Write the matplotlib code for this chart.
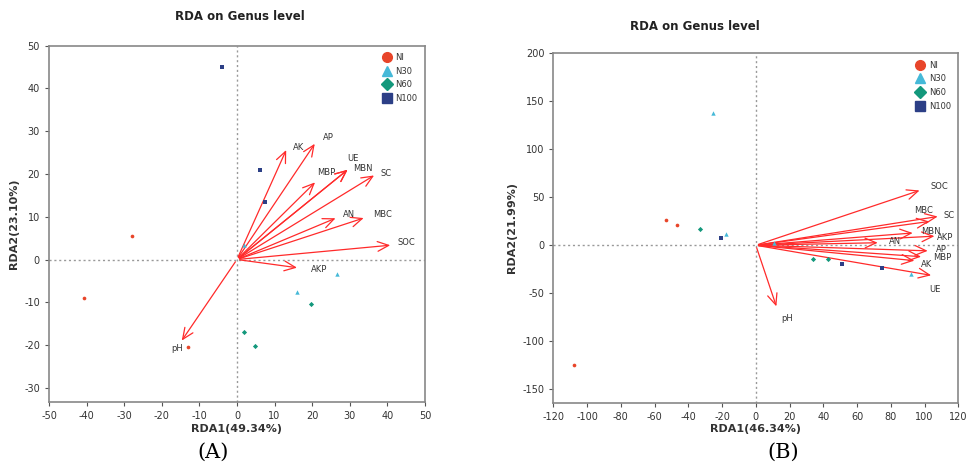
import numpy as np
import matplotlib.pyplot as plt
from matplotlib.lines import Line2D

plt.rcParams['axes.unicode_minus'] = False

# ---- panel A data ----
groups = ['NI', 'N30', 'N60', 'N100']
a_x = {'NI': [-28, -40.7, -13], 'N30': [2, 26.5, 16], 'N60': [19.8, 2, 4.8], 'N100': [-4, 6, 7.5]}
a_y = {'NI': [5.5, -9, -20.5], 'N30': [3.5, -3.3, -7.5], 'N60': [-10.3, -17, -20.2], 'N100': [45, 21, 13.5]}
a_env = ['AK', 'AP', 'UE', 'MBN', 'MBP', 'SC', 'AN', 'MBC', 'SOC', 'AKP', 'pH']
a_ex = [13.4, 21.1, 30, 30, 21.3, 37.1, 26.9, 34.4, 41.5, 16.7, -15.1]
a_ey = [26.2, 27.6, 21.4, 21.4, 18.5, 20, 9.9, 9.9, 3.4, -2, -19.5]
a_lx = [16.5, 24.2, 30.9, 33.5, 23.8, 39.7, 29.7, 38.8, 45, 21.8, -15.8]
a_ly = [26.2, 28.6, 23.6, 21.2, 20.4, 20.2, 10.5, 10.5, 4, -2.4, -20.9]

# ---- panel B data ----
b_x = {'NI': [-53, -46.5, -108], 'N30': [-25.5, -17.5, 10.5, 92], 'N60': [-33, 34, 43], 'N100': [-20.5, 51, 75]}
b_y = {'NI': [26, 21.5, -125], 'N30': [138, 11.5, 2, -29.5], 'N60': [17, -14, -14], 'N100': [8, -19.5, -24]}
b_env = ['SOC', 'SC', 'MBC', 'MBN', 'AKP', 'AN', 'AP', 'MBP', 'AK', 'UE', 'pH']
b_ex = [98.6, 109.4, 104.5, 94.6, 107.5, 73.9, 103.5, 99.6, 95.6, 105.5, 12.7]
b_ey = [58, 30.4, 25.2, 13, 9.6, 2.7, -5.9, -12.1, -16.3, -31.8, -66.4]
b_lx = [108.5, 114.4, 99.6, 103.5, 112.4, 82.2, 109.9, 110.5, 101, 106, 18.6]
b_ly = [61.5, 31.4, 36.6, 14.8, 7.9, 3.7, -4.1, -12.5, -20, -45.6, -76.8]

colors = {'NI': '#e8452a', 'N30': '#45b9d8', 'N60': '#13987c', 'N100': '#2c3f86'}
markers = {'NI': 'o', 'N30': '^', 'N60': 'D', 'N100': 's'}
grey = '#555555'

fig = plt.figure(figsize=(9.68, 4.69), dpi=100)
axA = fig.add_axes([0.0506, 0.1422, 0.3884, 0.7603])
axB = fig.add_axes([0.5716, 0.1414, 0.4184, 0.745])


def draw(ax, px, py, env, ex, ey, lx, ly, xlim, ylim, xticks, yticks, xlab, ylab):
    ax.axhline(0, color='#999999', ls=(0, (1.5, 2)), lw=1, zorder=1)
    ax.axvline(0, color='#999999', ls=(0, (1.5, 2)), lw=1, zorder=1)
    for g in groups:
        ax.scatter(px[g], py[g], s=10 if g == 'N30' else 7, marker=markers[g], color=colors[g],
                   zorder=3, linewidths=0)
    for i in range(len(env)):
        ax.annotate('', xy=(ex[i], ey[i]), xytext=(0, 0),
                    arrowprops=dict(arrowstyle='->,head_length=0.8,head_width=0.35',
                                    color='#ff2a2a', lw=0.9), zorder=2)
        ax.text(lx[i], ly[i], env[i], fontsize=6, color='#333333', ha='center', va='center')
    ax.set_xlim(xlim)
    ax.set_ylim(ylim)
    ax.set_xticks(xticks)
    ax.set_yticks(yticks)
    ax.tick_params(colors=grey, labelsize=7, length=3, width=0.8, labelcolor='#333333')
    for s in ax.spines.values():
        s.set_color('#888888')
        s.set_linewidth(1.2)
    ax.set_xlabel(xlab, fontsize=8, fontweight='bold', color='#333333', labelpad=2)
    ax.set_ylabel(ylab, fontsize=8, fontweight='bold', color='#333333', labelpad=4)
    handles = [Line2D([], [], ls='', marker=markers[g], color=colors[g], markersize=7 if g != 'N60' else 6,
                      label=g) for g in groups]
    leg = ax.legend(handles=handles, loc='upper right', frameon=False, fontsize=6,
                    handletextpad=0.0, labelspacing=0.55, borderaxespad=0.5)
    for t in leg.get_texts():
        t.set_color('#333333')


draw(axA, a_x, a_y, a_env, a_ex, a_ey, a_lx, a_ly, (-50, 50), (-33.4, 50),
     np.arange(-50, 51, 10), np.arange(-30, 51, 10), 'RDA1(49.34%)', 'RDA2(23.10%)')
draw(axB, b_x, b_y, b_env, b_ex, b_ey, b_lx, b_ly, (-120, 120), (-164, 200),
     np.arange(-120, 121, 20), np.arange(-150, 201, 50), 'RDA1(46.34%)', 'RDA2(21.99%)')

fig.text(240 / 968, 1 - 17 / 469, 'RDA on Genus level', ha='center', va='center',
         fontsize=8.5, fontweight='bold', color='#222222')
fig.text(695 / 968, 1 - 27 / 469, 'RDA on Genus level', ha='center', va='center',
         fontsize=8.5, fontweight='bold', color='#222222')
fig.text(213 / 968, 1 - 452 / 469, '(A)', ha='center', va='center', fontsize=15, family='DejaVu Serif')
fig.text(783 / 968, 1 - 452 / 469, '(B)', ha='center', va='center', fontsize=15, family='DejaVu Serif')

fig.savefig('out.png', dpi=100)
